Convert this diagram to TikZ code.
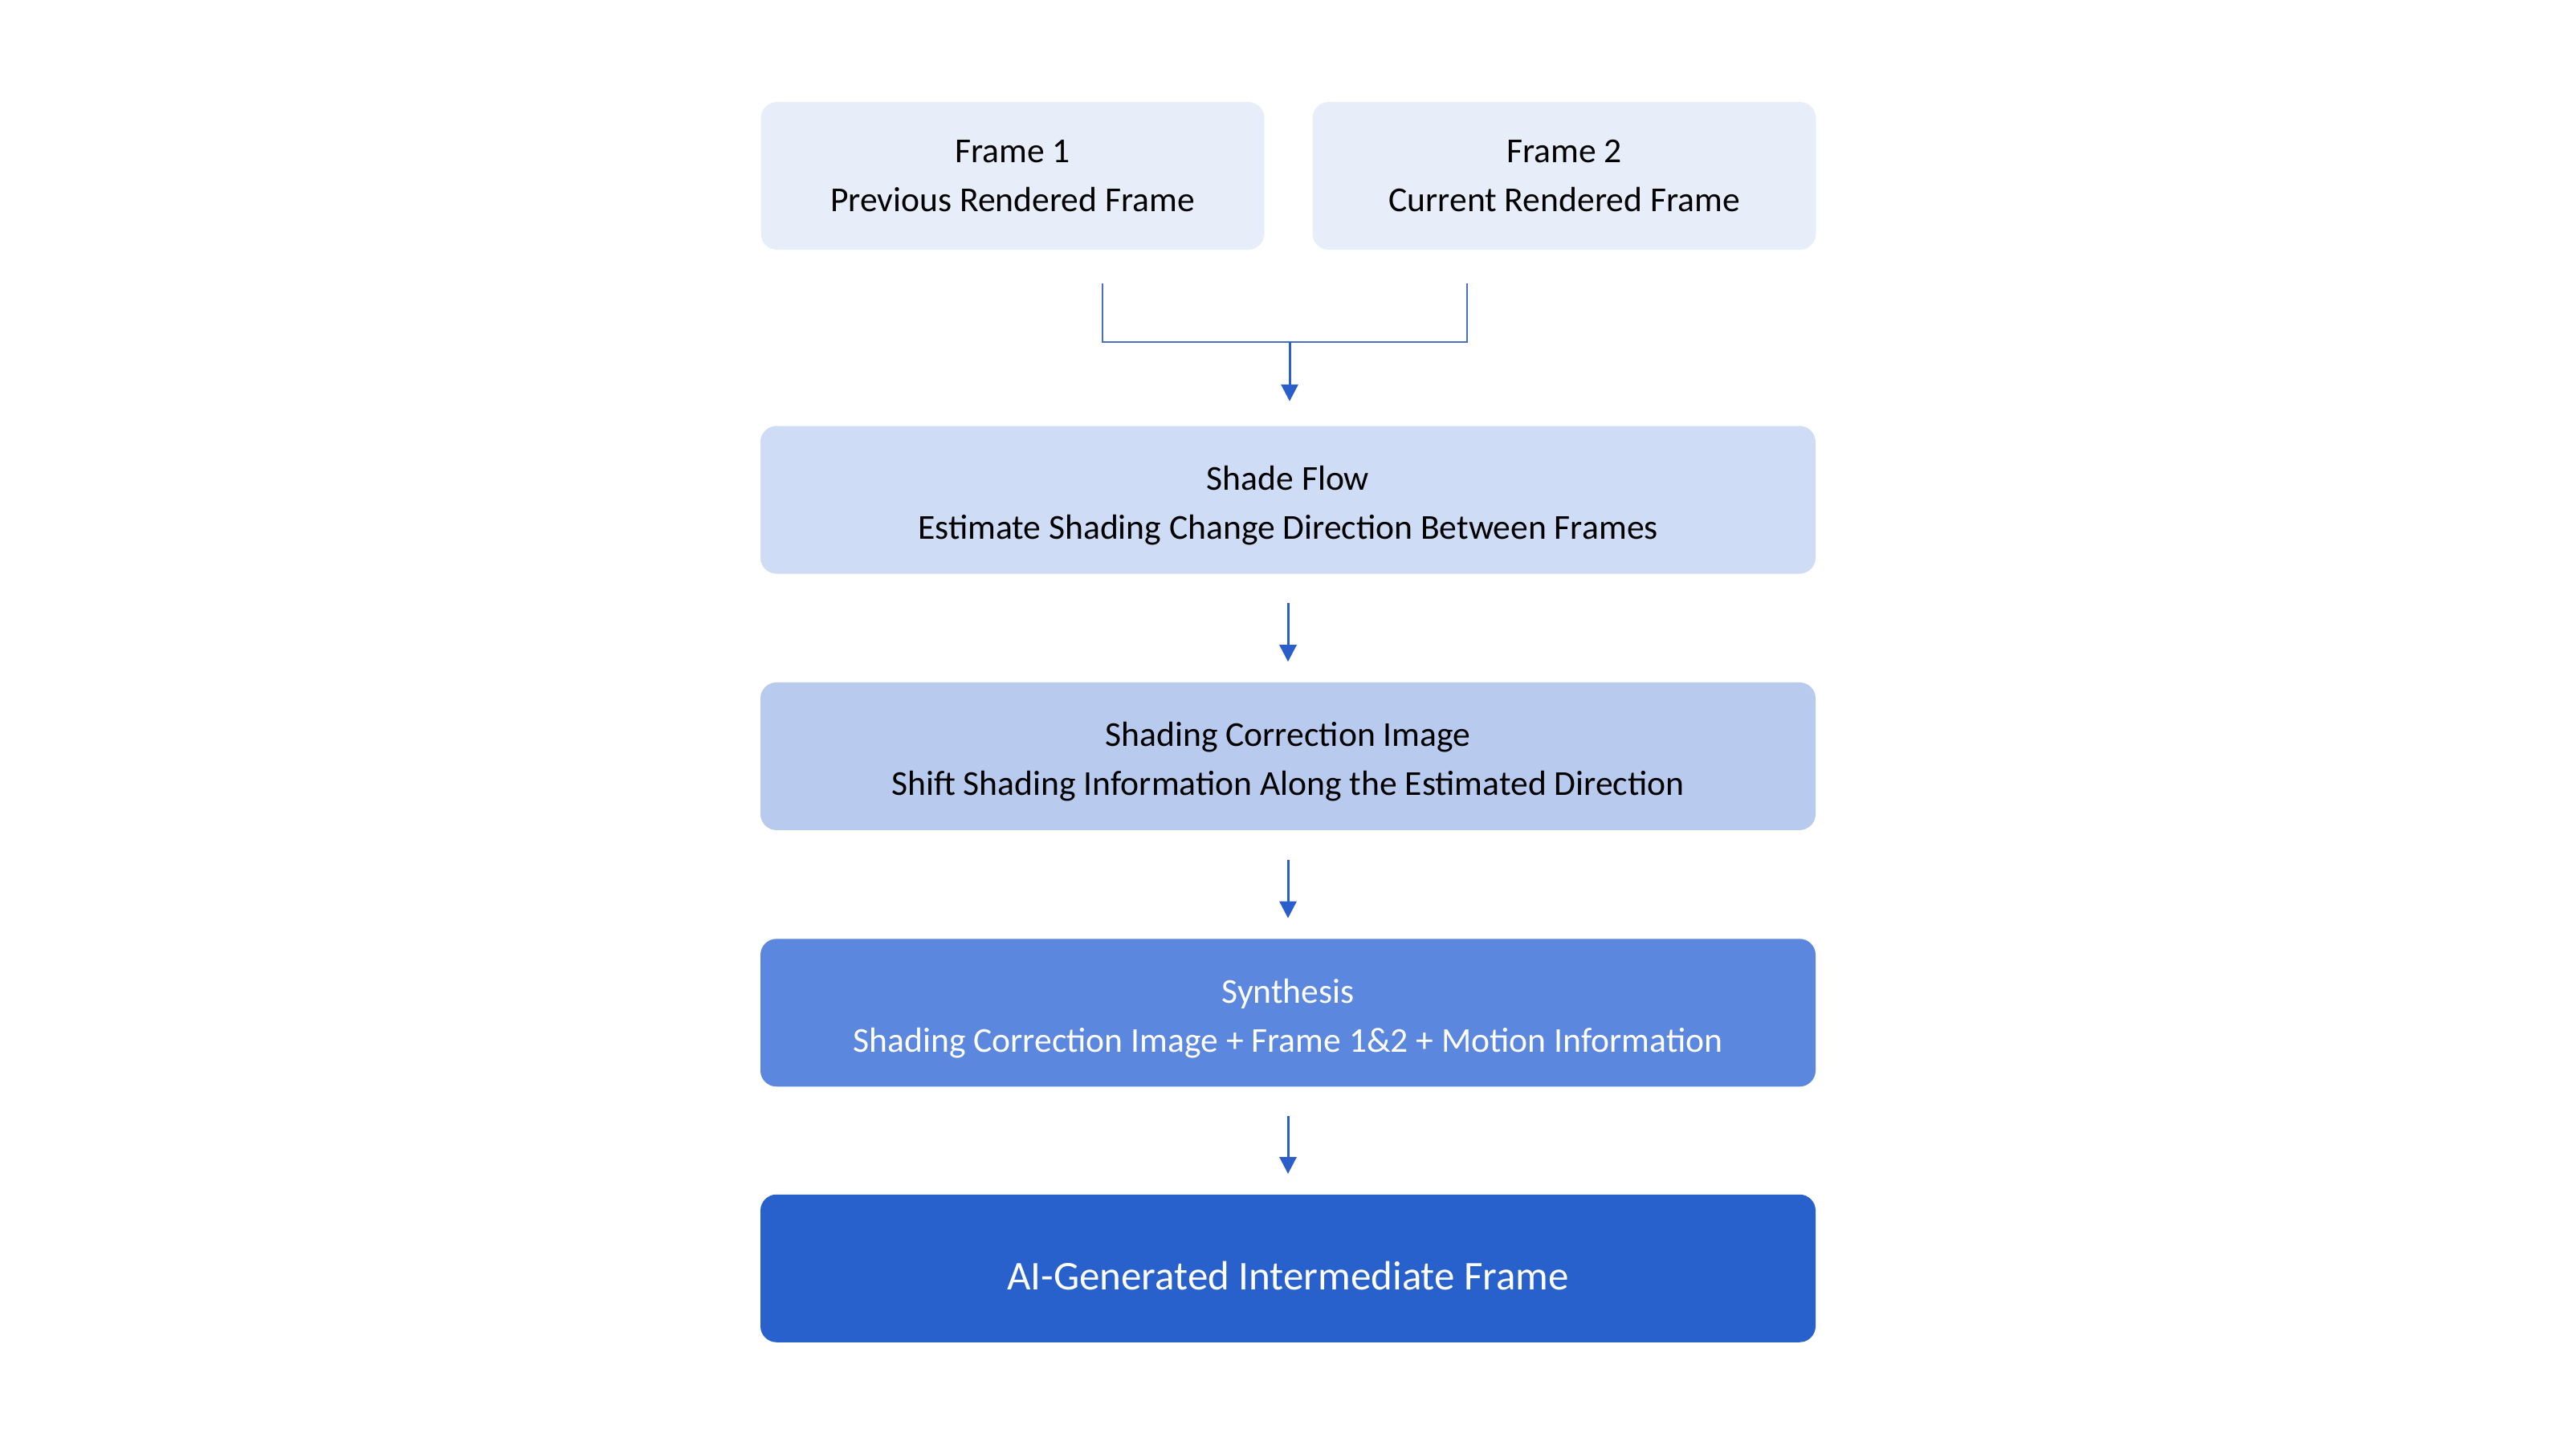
\documentclass[tikz,border=0pt]{standalone}
\usepackage{fontspec}
\setmainfont{Carlito}
\usepackage{tikz}
\usetikzlibrary{positioning}
\usetikzlibrary{arrows.meta}

\definecolor{frameblue}{HTML}{E8EEF9}
\definecolor{flowblue}{HTML}{CFDCF5}
\definecolor{corrblue}{HTML}{B8CBEE}
\definecolor{synthblue}{HTML}{5B87DE}
\definecolor{outblue}{HTML}{2961CC}
\definecolor{arrowblue}{HTML}{2A5FCB}
\definecolor{lineblue}{HTML}{4A6FC4}

% title line + description line
\newcommand{\stagetext}[2]{\rule{0pt}{12.6pt}#1\\#2}

\begin{document}
\begin{tikzpicture}[
        inframe/.style={rectangle, rounded corners=0.2cm, fill=frameblue, minimum width=6.27cm, minimum height=1.84cm, align=center, font=\fontsize{12.4}{17.4}\selectfont},
        stage/.style={rectangle, rounded corners=0.2cm, minimum width=13.14cm, minimum height=1.84cm, align=center, font=\fontsize{12.4}{17.4}\selectfont},
        connection/.style={-{Triangle[width=0.21cm, length=0.21cm]}, arrowblue, line width=0.85pt, shorten <=0.36cm, shorten >=0.25cm},
        joinline/.style={lineblue, line width=0.6pt}
    ]

    \useasboundingbox (0,0) rectangle (32.08,-18);

    % Input Frames
    \node[inframe] (F1) at (12.61, -2.19) {Frame 1\\Previous Rendered Frame};
    \node[inframe] (F2) at (19.48, -2.19) {Frame 2\\Current Rendered Frame};

    % Pipeline Stages
    \node[stage, fill=flowblue] (S1) at (16.04, -6.225) {\stagetext{Shade Flow}{Estimate Shading Change Direction Between Frames}};
    \node[stage, fill=corrblue, below=1.34cm of S1] (S2) {\stagetext{Shading Correction Image}{Shift Shading Information Along the Estimated Direction}};
    \node[stage, fill=synthblue, text=white, below=1.34cm of S2] (S3) {\stagetext{Synthesis}{Shading Correction Image + Frame 1\&2 + Motion Information}};
    \node[stage, fill=outblue, text=white, below=1.33cm of S3, font=\fontsize{14.5}{17}\selectfont] (S4) {\rule{0pt}{15.5pt}AI-Generated Intermediate Frame};

    % Joining the two frames
    \coordinate (C1) at ([xshift=1.12cm, yshift=-0.41cm]F1.south);
    \coordinate (C2) at ([xshift=-1.21cm, yshift=-0.41cm]F2.south);
    \coordinate (J) at (16.06, -4.26);
    \draw[joinline] (C1) |- (J) -| (C2);
    \draw[connection, shorten <=0pt, shorten >=0.3cm] (J) -- (J |- S1.north);

    % Connections between stages
    \foreach \i/\j in {1/2, 2/3, 3/4} {
        \draw[connection] (S\i) -- (S\j);
    }

\end{tikzpicture}
\end{document}
